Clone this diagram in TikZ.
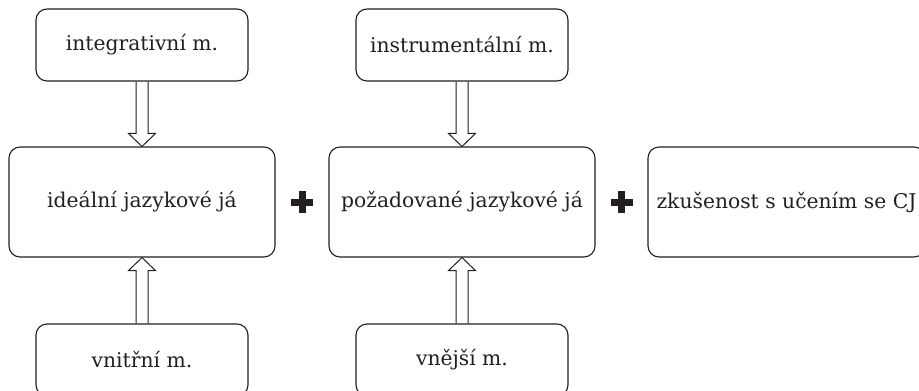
\documentclass[tikz,border=0pt]{standalone}
\usepackage{fontspec}
\setmainfont{DejaVu Serif}
\usetikzlibrary{calc}
\definecolor{ink}{HTML}{231F20}

\begin{document}
\begin{tikzpicture}[x=1pt,y=-1pt]
          \tikzset{
            box/.style={draw=ink, line width=1.1pt, rounded corners=11pt, text=ink,
              font=\fontsize{20.3}{24}\selectfont, inner sep=0pt},
            small/.style={box, minimum width=212pt, minimum height=72pt},
            big/.style={box, minimum width=266pt, minimum height=110pt},
            blockarrow/.style={draw=ink, line width=1pt, to path={
              let \p1=(\tikztostart), \p2=(\tikztotarget),
                  \n1={ifthenelse(\y2<\y1,1,-1)} in
              (\x1-6pt,\y1) -- (\x1-6pt,\y2+\n1*13pt) -- (\x1-13.5pt,\y2+\n1*13pt)
              -- (\x2,\y2) -- (\x1+13.5pt,\y2+\n1*13pt) -- (\x1+6pt,\y2+\n1*13pt)
              -- (\x1+6pt,\y1)}},
            plussign/.style={fill=ink}
          }
          \useasboundingbox (0,0) rectangle (919,391);
          \clip (0,0) rectangle (919,391);
          % boxes
          \node[small] (int) at (142,45) {integrativní m.};
          \node[big] (ide) at (142,202) {ideální jazykové já};
          \node[small] (vni) at (142,360) {vnitřní m.};
          \node[small] (ins) at (462,45) {instrumentální m.};
          \node[big] (poz) at (462,202) {požadované jazykové já};
          \node[small] (vne) at (462,360) {vnější m.};
          \node[big, minimum width=277pt] (zku) at (786.5,202) {zkušenost s učením se CJ};

          % arrows
          \path[blockarrow] (int.south) to (ide.north);
          \path[blockarrow] (vni.north) to (ide.south);
          \path[blockarrow] (ins.south) to (poz.north);
          \path[blockarrow] (vne.north) to (poz.south);

          % plus signs
          \coordinate (plusA) at ($(ide.east)!0.5!(poz.west)$);
          \coordinate (plusB) at ($(poz.east)!0.5!(zku.west)$);
          \foreach \c in {plusA,plusB}{
            \fill[plussign] (\c) +(-11,-3.5) rectangle +(11,3.5);
            \fill[plussign] (\c) +(-3.5,-11) rectangle +(3.5,11);
          }
\end{tikzpicture}
\end{document}
